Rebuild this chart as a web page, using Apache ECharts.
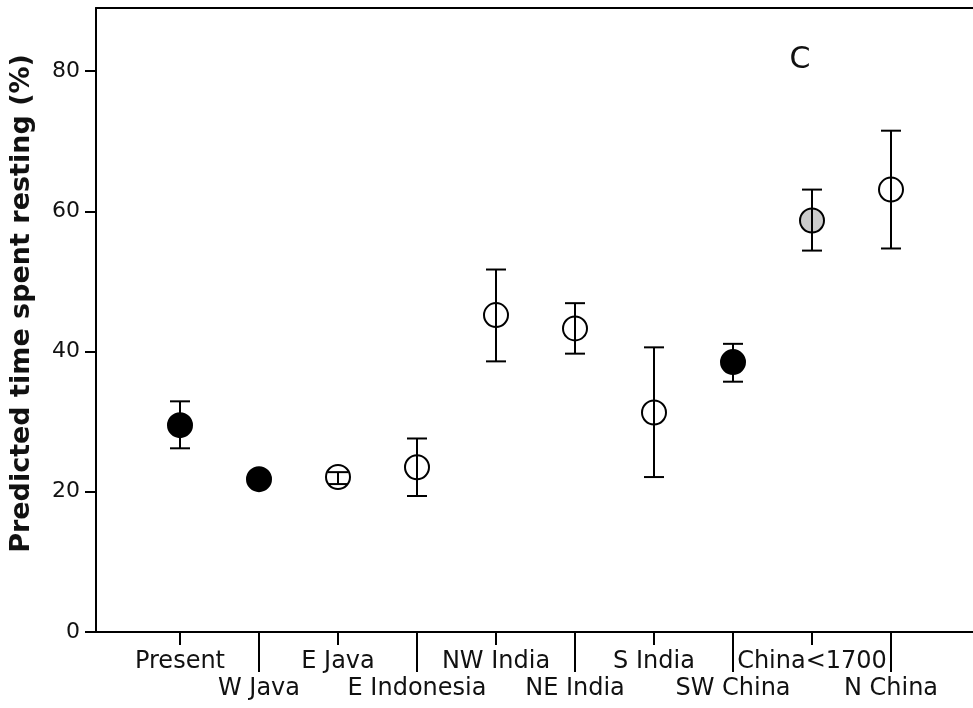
<!DOCTYPE html>
<html>
<head>
<meta charset="utf-8">
<title>Predicted time spent resting</title>
<script src="https://cdn.jsdelivr.net/npm/echarts@6/dist/echarts.min.js"></script>
<style>
  html, body { margin: 0; padding: 0; background: #fff; }
  #chart { width: 973px; height: 708px; }
</style>
</head>
<body>
<div id="chart"></div>
<script>
// Regions, in display order along the x axis
const regions = ['Present', 'W Java', 'E Java', 'E Indonesia', 'NW India',
                 'NE India', 'S India', 'SW China', 'China<1700', 'N China'];

// Predicted resting time (%) with lower / upper interval bounds
const predicted = [29.5, 21.8, 22.1, 23.5, 45.2, 43.3, 31.3, 38.5, 58.7, 63.1];
const lower     = [26.2, 21.3, 21.1, 19.4, 38.6, 39.7, 22.1, 35.7, 54.4, 54.7];
const upper     = [32.9, 22.3, 22.8, 27.6, 51.7, 46.9, 40.6, 41.1, 63.1, 71.5];

// Marker fill per region: solid, open or grey
const markerKind = ['solid', 'solid', 'open', 'open', 'open',
                    'open', 'open', 'solid', 'grey', 'open'];

// Value-axis ticks
const yTicks = [0, 20, 40, 60, 80];
const yMax = 89;

const ink = '#000000';
const textInk = '#111111';
const font = 'DejaVu Sans';
const fills = { solid: '#000000', open: 'rgba(255,255,255,0)', grey: '#cccccc' };

const chart = echarts.init(document.getElementById('chart'), null, { renderer: 'canvas' });

const frameGrid = { left: 96, right: 0, top: 8, bottom: 76 };
const dataGrid  = { left: 140.5, width: 790, top: 8, bottom: 76 };

chart.setOption({
  animation: false,
  backgroundColor: '#ffffff',
  grid: [frameGrid, dataGrid],
  xAxis: [
    { // bottom frame line
      type: 'value', gridIndex: 0, position: 'bottom', min: 0, max: 1,
      axisLine: { show: true, lineStyle: { color: ink, width: 2 } },
      axisTick: { show: false }, axisLabel: { show: false }, splitLine: { show: false }
    },
    { // top frame line
      type: 'value', gridIndex: 0, position: 'top', min: 0, max: 1,
      axisLine: { show: true, lineStyle: { color: ink, width: 2 } },
      axisTick: { show: false }, axisLabel: { show: false }, splitLine: { show: false }
    },
    { // category axis: short ticks, upper row of labels
      type: 'category', gridIndex: 1, position: 'bottom', data: regions,
      axisLine: { show: false },
      axisTick: { show: true, alignWithLabel: true, length: 13,
                  interval: (i) => i % 2 === 0,
                  lineStyle: { color: ink, width: 2 } },
      axisLabel: { interval: (i) => i % 2 === 0, margin: 18,
                   color: textInk, fontFamily: font, fontSize: 24 },
      splitLine: { show: false }
    },
    { // category axis: long ticks, lower row of labels
      type: 'category', gridIndex: 1, position: 'bottom', data: regions,
      axisLine: { show: false },
      axisTick: { show: true, alignWithLabel: true, length: 40,
                  interval: (i) => i % 2 === 1,
                  lineStyle: { color: ink, width: 2 } },
      axisLabel: { interval: (i) => i % 2 === 1, margin: 45,
                   color: textInk, fontFamily: font, fontSize: 24 },
      splitLine: { show: false }
    }
  ],
  yAxis: [
    {
      type: 'value', gridIndex: 0, min: 0, max: yMax,
      axisLine: { show: true, lineStyle: { color: ink, width: 2 } },
      axisTick: { show: true, length: 11, customValues: yTicks,
                  lineStyle: { color: ink, width: 2 } },
      axisLabel: { customValues: yTicks, margin: 16,
                   color: textInk, fontFamily: font, fontSize: 22 },
      splitLine: { show: false }
    },
    {
      type: 'value', gridIndex: 1, min: 0, max: yMax, show: false,
      splitLine: { show: false }
    }
  ],
  graphic: [
    {
      type: 'text', x: 22, y: 303.5, rotation: Math.PI / 2,
      style: { text: 'Predicted time spent resting (%)', fill: textInk,
               font: 'bold 27px "DejaVu Sans"', align: 'center', verticalAlign: 'middle' }
    },
    {
      type: 'text', x: 800, y: 60,
      style: { text: 'C', fill: textInk, font: '30px "DejaVu Sans"',
               align: 'center', verticalAlign: 'middle' }
    }
  ],
  series: [
    {
      type: 'scatter', xAxisIndex: 2, yAxisIndex: 1, z: 2,
      symbol: 'circle', symbolSize: 24,
      data: predicted.map((v, i) => ({
        value: [i, v],
        itemStyle: { color: fills[markerKind[i]], borderColor: ink,
                     borderWidth: 2, opacity: 1 }
      }))
    },
    {
      type: 'custom', xAxisIndex: 2, yAxisIndex: 1, z: 3,
      data: regions.map((r, i) => [i, lower[i], upper[i]]),
      renderItem: function (params, api) {
        const lo = api.coord([api.value(0), api.value(1)]);
        const hi = api.coord([api.value(0), api.value(2)]);
        const half = 10;
        const style = { stroke: ink, lineWidth: 2, fill: null };
        return {
          type: 'group',
          children: [
            { type: 'line', shape: { x1: lo[0], y1: lo[1], x2: hi[0], y2: hi[1] }, style },
            { type: 'line', shape: { x1: hi[0] - half, y1: hi[1], x2: hi[0] + half, y2: hi[1] }, style },
            { type: 'line', shape: { x1: lo[0] - half, y1: lo[1], x2: lo[0] + half, y2: lo[1] }, style }
          ]
        };
      }
    }
  ]
});
</script>
</body>
</html>
